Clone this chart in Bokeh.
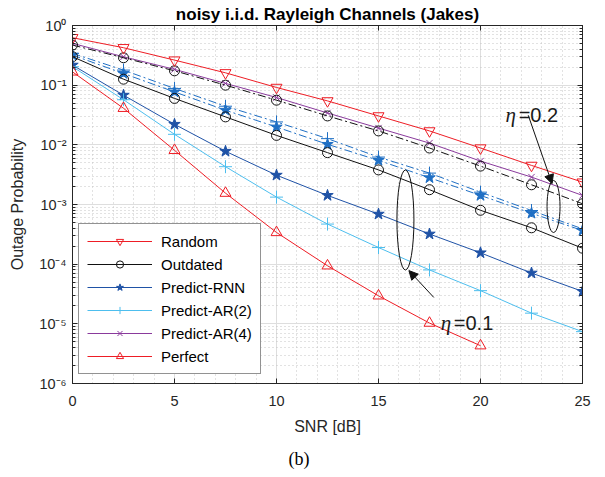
from bokeh.plotting import figure
from bokeh.models import (Range1d, FixedTicker, Legend, LegendItem, Title, LogAxis, LinearAxis,
                          Label, Arrow, NormalHead)
from bokeh.embed import file_html
from bokeh.resources import INLINE

# ---------------- data ----------------
snr = [0, 2.5, 5, 7.5, 10, 12.5, 15, 17.5, 20, 22.5, 25]
snr_perfect = [0, 2.5, 5, 7.5, 10, 12.5, 15, 17.5, 20]

random_ = [0.624, 0.424, 0.263, 0.161, 0.0915, 0.0545, 0.0305, 0.0171, 0.00884, 0.00452, 0.00237]
outdated_02 = [0.47, 0.288, 0.174, 0.100, 0.056, 0.0305, 0.0171, 0.00884, 0.0044, 0.00214, 0.00103]
ar4_02 = [0.502, 0.299, 0.184, 0.107, 0.0621, 0.0342, 0.0191, 0.0107, 0.00534, 0.00288, 0.00142]
rnn_02 = [0.319, 0.157, 0.0771, 0.038, 0.0199, 0.0102, 0.00549, 0.00281, 0.00142, 0.000714, 0.000366]
ar2_02 = [0.341, 0.179, 0.0881, 0.0444, 0.0242, 0.0127, 0.00624, 0.00336, 0.00161, 0.000793, 0.000391]
outdated_01 = [0.30, 0.126, 0.060, 0.0294, 0.0144, 0.0074, 0.0038, 0.00177, 0.00080, 0.000407, 0.000185]
rnn_01 = [0.217, 0.068, 0.0221, 0.0078, 0.0031, 0.00142, 0.00069, 0.00032, 0.000155, 0.000071, 0.000035]
ar2_01 = [0.204, 0.057, 0.0150, 0.0043, 0.00133, 0.00047, 0.00019, 0.000080, 0.000036, 0.0000151, 0.0000074]
perfect = [0.167, 0.041, 0.0081, 0.00155, 0.00034, 0.000094, 0.0000295, 0.0000103, 0.0000043]

x_ticks = [0, 5, 10, 15, 20, 25]
x_minor = [v for v in range(0, 26) if v % 5 != 0]
y_ticks = [1e-6, 1e-5, 1e-4, 1e-3, 1e-2, 1e-1, 1.0]
y_tick_labels = ["10\u207b\u2076", "10\u207b\u2075", "10\u207b\u2074", "10\u207b\u00b3",
                 "10\u207b\u00b2", "10\u207b\u00b9", "10\u2070"]
y_minor = [m * 10.0 ** e for e in range(-6, 0) for m in range(2, 10)]

title_text = "noisy i.i.d. Rayleigh Channels (Jakes)"
caption_text = "(b)"
legend_labels = ["Random", "Outdated", "Predict-RNN", "Predict-AR(2)", "Predict-AR(4)", "Perfect"]

# ---------------- style ----------------
RED = "#ee1d25"
BLACK = "#111111"
DBLUE = "#1f52a6"
MBLUE = "#1f6fc4"
LBLUE = "#4dbeee"
PURPLE = "#8a3a9c"
AX = "#262626"
FONT = "Liberation Sans"

p = figure(width=605, height=477, x_range=Range1d(0, 25), y_range=Range1d(1e-6, 1),
           y_axis_type="log", output_backend="svg", toolbar_location=None,
           min_border_left=72, min_border_right=23, min_border_top=25, min_border_bottom=94)
p.title = Title(text=title_text, align="center", text_font=FONT, text_font_size="17px",
                text_font_style="bold", text_color="#000000", standoff=3)
p.outline_line_color = AX
p.outline_line_width = 1
p.background_fill_color = "white"

xt = FixedTicker(ticks=x_ticks, minor_ticks=x_minor)
yt = FixedTicker(ticks=y_ticks, minor_ticks=y_minor)
p.xaxis.ticker = xt
p.yaxis.ticker = yt
p.xgrid.ticker = xt
p.ygrid.ticker = yt

for g in (p.xgrid, p.ygrid):
    g.grid_line_color = "#dedede"
    g.grid_line_width = 1
    g.minor_grid_line_color = "#c4c4c4"
    g.minor_grid_line_dash = "1 3"
    g.minor_grid_line_width = 1

p.yaxis.major_label_overrides = dict(zip(y_ticks, y_tick_labels))

for ax in (p.xaxis, p.yaxis):
    ax.axis_line_color = AX
    ax.major_tick_line_color = AX
    ax.minor_tick_line_color = AX
    ax.major_tick_in = 5
    ax.major_tick_out = 0
    ax.minor_tick_in = 3
    ax.minor_tick_out = 0
    ax.major_label_text_font = FONT
    ax.major_label_text_font_size = "14.5px"
    ax.major_label_text_color = AX
    ax.axis_label_text_font = FONT
    ax.axis_label_text_font_size = "16px"
    ax.axis_label_text_font_style = "normal"
    ax.axis_label_text_color = AX
p.xaxis.minor_tick_in = 0
p.xaxis.axis_label = "SNR [dB]"
p.yaxis.axis_label = "Outage Probability"
p.xaxis.major_label_standoff = 12
p.xaxis.axis_label_standoff = 9
p.yaxis.major_label_standoff = 6
p.yaxis.axis_label_standoff = 10

# tick marks on the right and top sides of the box (no labels)
rax = LogAxis(ticker=yt, major_label_text_font_size="1px", major_label_text_alpha=0,
              major_label_standoff=0, axis_line_color=AX, major_tick_line_color=AX,
              minor_tick_line_color=AX, major_tick_in=5, major_tick_out=0,
              minor_tick_in=3, minor_tick_out=0)
p.add_layout(rax, "right")
tax = LinearAxis(ticker=xt, major_label_text_font_size="1px", major_label_text_alpha=0,
                 major_label_standoff=0, axis_line_color=AX, major_tick_line_color=AX,
                 minor_tick_line_color=AX, major_tick_in=5, major_tick_out=0,
                 minor_tick_in=0, minor_tick_out=0)
p.add_layout(tax, "above")

p.add_layout(Title(text=caption_text, align="left", offset=216, standoff=18,
                   text_font="Liberation Serif", text_font_size="18px",
                   text_font_style="normal", text_color="#000000"), "below")

# ---------------- series ----------------
DD = "8 3 2 3"
def series(x, y, color, marker, size, dash="solid", fill=None):
    ln = p.line(x, y, line_color=color, line_width=1, line_dash=dash)
    sc = p.scatter(x, y, marker=marker, size=size, line_color=color, line_width=1,
                   fill_color=fill)
    return ln, sc

r_ar4 = series(snr, ar4_02, PURPLE, "x", 9)
r_out2 = series(snr, outdated_02, BLACK, "circle", 10, dash=DD)
r_rnn2 = series(snr, rnn_02, MBLUE, "star", 12, dash=DD, fill=MBLUE)
r_ar22 = series(snr, ar2_02, MBLUE, "cross", 13, dash=DD)
r_rand = series(snr, random_, RED, "inverted_triangle", 11)
r_out1 = series(snr, outdated_01, BLACK, "circle", 10)
r_rnn1 = series(snr, rnn_01, DBLUE, "star", 12, fill=DBLUE)
r_ar21 = series(snr, ar2_01, LBLUE, "cross", 13)
r_perf = series(snr_perfect, perfect, RED, "triangle", 11)

legend = Legend(items=[
    LegendItem(label=legend_labels[0], renderers=list(r_rand)),
    LegendItem(label=legend_labels[1], renderers=list(r_out1)),
    LegendItem(label=legend_labels[2], renderers=list(r_rnn1)),
    LegendItem(label=legend_labels[3], renderers=list(r_ar21)),
    LegendItem(label=legend_labels[4], renderers=list(r_ar4)),
    LegendItem(label=legend_labels[5], renderers=list(r_perf)),
], location=(6, 9))
legend.border_line_color = AX
legend.border_line_width = 1
legend.background_fill_color = "white"
legend.background_fill_alpha = 1
legend.label_text_font = FONT
legend.label_text_font_size = "15px"
legend.label_text_color = "#000000"
legend.glyph_width = 65
legend.glyph_height = 18
legend.label_height = 18
legend.spacing = 5
legend.padding = 8
legend.margin = 0
legend.label_standoff = 9
p.add_layout(legend)

# ---------------- annotations ----------------
p.ellipse(x=[16.32], y=[5.5e-4], width=17, height=100, width_units="screen",
          height_units="screen", fill_color=None, line_color=BLACK, line_width=1)
p.ellipse(x=[23.58], y=[9.25e-4], width=13, height=52, width_units="screen",
          height_units="screen", fill_color=None, line_color=BLACK, line_width=1)
p.add_layout(Arrow(end=NormalHead(size=9, fill_color=BLACK, line_color=BLACK),
                   x_start=22.34, y_start=0.0313, x_end=23.51, y_end=0.00223,
                   line_color=BLACK, line_width=1))
p.add_layout(Arrow(end=NormalHead(size=9, fill_color=BLACK, line_color=BLACK),
                   x_start=17.71, y_start=2.77e-5, x_end=16.49, y_end=7.8e-5,
                   line_color=BLACK, line_width=1))

for xe, xv, yb, txt in [(21.23, 21.87, 0.0322, "=0.2"), (18.05, 18.69, 1.05e-5, "=0.1")]:
    p.add_layout(Label(x=xe, y=yb, text="\u03b7", text_font="Liberation Serif",
                       text_font_style="italic", text_font_size="21px",
                       text_baseline="alphabetic", text_color="#1a1a1a"))
    p.add_layout(Label(x=xv, y=yb, text=txt, text_font=FONT, text_font_size="20px",
                       text_baseline="alphabetic", text_color="#1a1a1a"))

open("out.html", "w").write(file_html(p, INLINE))
